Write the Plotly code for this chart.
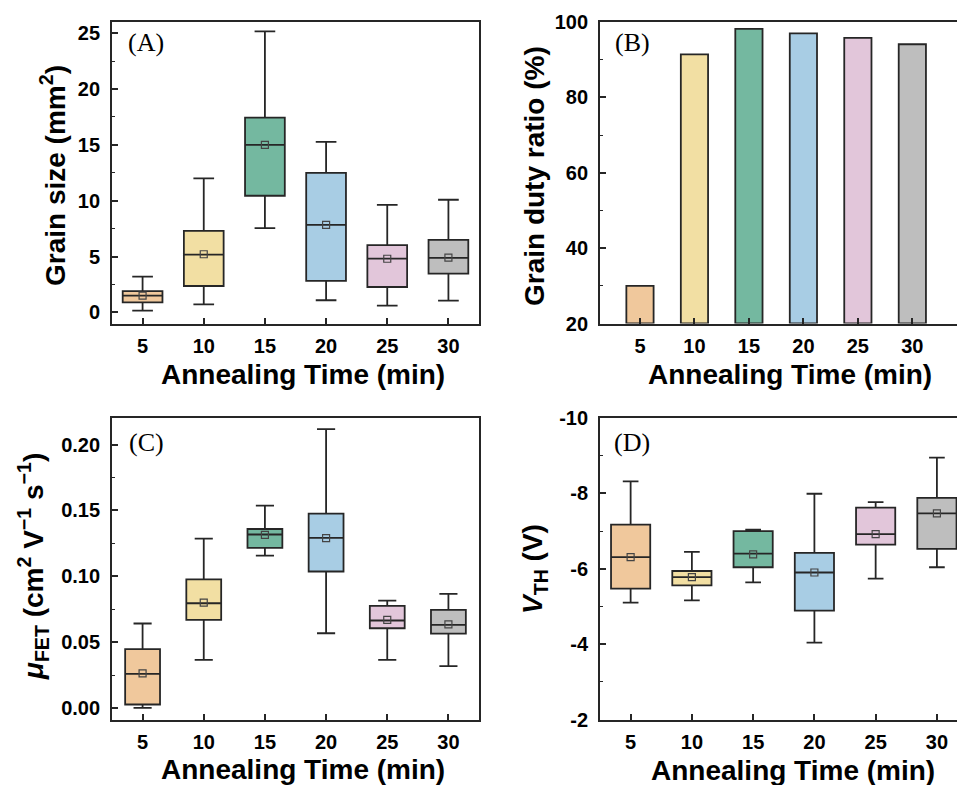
import plotly.graph_objects as go

# ---------------- data ----------------
times = [5, 10, 15, 20, 25, 30]
colors = ["#F0C89C", "#F2DFA3", "#74B8A0", "#A8CDE4", "#E2C6DA", "#BEBEBE"]

# (A) grain size (mm^2)
grain_low = [0.15, 0.72, 7.54, 1.08, 0.60, 1.04]
grain_q1 = [0.90, 2.36, 10.44, 2.81, 2.27, 3.46]
grain_med = [1.50, 5.17, 15.00, 7.84, 4.81, 4.87]
grain_q3 = [1.90, 7.30, 17.44, 12.48, 6.01, 6.49]
grain_high = [3.20, 12.00, 25.16, 15.26, 9.63, 10.08]
grain_mean = [1.50, 5.20, 15.00, 7.84, 4.80, 4.90]

# (B) grain duty ratio (%)
duty = [30.0, 91.4, 98.2, 97.0, 95.8, 94.1]

# (C) mobility (cm^2 V^-1 s^-1)
mu_low = [0.000, 0.0365, 0.1157, 0.0567, 0.0365, 0.0317]
mu_q1 = [0.0026, 0.0668, 0.1215, 0.1036, 0.0605, 0.0565]
mu_med = [0.0258, 0.0795, 0.1317, 0.1291, 0.0664, 0.0630]
mu_q3 = [0.0446, 0.0977, 0.1359, 0.1476, 0.0775, 0.0744]
mu_high = [0.0641, 0.1286, 0.1537, 0.2118, 0.0815, 0.0866]
mu_mean = [0.0262, 0.0800, 0.1315, 0.1290, 0.0668, 0.0635]

# (D) threshold voltage (V)
vth_min = [-8.32, -6.45, -7.04, -7.99, -7.77, -8.95]
vth_q1 = [-7.17, -5.94, -7.00, -6.42, -7.62, -7.88]
vth_med = [-6.31, -5.78, -6.40, -5.90, -6.92, -7.47]
vth_q3 = [-5.47, -5.56, -6.04, -4.89, -6.64, -6.53]
vth_max = [-5.10, -5.16, -5.64, -4.04, -5.74, -6.04]
vth_mean = [-6.31, -5.78, -6.38, -5.90, -6.92, -7.47]

x_ticks = [5, 10, 15, 20, 25, 30]
a_ticks = [0, 5, 10, 15, 20, 25]
b_ticks = [20, 40, 60, 80, 100]
c_ticks = [0.00, 0.05, 0.10, 0.15, 0.20]
c_ticklabels = ["0.00", "0.05", "0.10", "0.15", "0.20"]
d_ticks = [-10, -8, -6, -4, -2]
d_ticklabels = ["-10", "-8", "-6", "-4", "-2"]

# ---------------- figure ----------------
W, H = 957, 785
LINE = "#262626"
SANS = "Liberation Sans, Arial, sans-serif"
SERIF = "Liberation Serif, Times New Roman, serif"

fig = go.Figure()


def add_boxes(xa, ya, low, q1, med, q3, high, mean, width, whisk):
    for i, t in enumerate(times):
        fig.add_trace(go.Box(
            x=[t], lowerfence=[low[i]], q1=[q1[i]], median=[med[i]],
            q3=[q3[i]], upperfence=[high[i]],
            fillcolor=colors[i], line=dict(color=LINE, width=1.8),
            width=width, whiskerwidth=whisk, boxpoints=False,
            xaxis=xa, yaxis=ya, showlegend=False, hoverinfo="skip"))
    fig.add_trace(go.Scatter(
        x=times, y=mean, mode="markers",
        marker=dict(symbol="square-open", size=7, color="#444444",
                    line=dict(width=1.2)),
        xaxis=xa, yaxis=ya, showlegend=False, hoverinfo="skip"))


add_boxes("x", "y", grain_low, grain_q1, grain_med, grain_q3, grain_high,
          grain_mean, 3.25, 0.52)

fig.add_trace(go.Bar(
    x=times, y=[d - 20 for d in duty], base=20, width=2.5,
    marker=dict(color=colors, line=dict(color=LINE, width=1.8)),
    xaxis="x2", yaxis="y2", showlegend=False, hoverinfo="skip"))

add_boxes("x3", "y3", mu_low, mu_q1, mu_med, mu_q3, mu_high, mu_mean,
          2.85, 0.52)
add_boxes("x4", "y4", vth_min, vth_q1, vth_med, vth_q3, vth_max,
          vth_mean, 3.2, 0.4)


def px_x(p):
    return p / W


def px_y(p):
    return 1 - p / H


tickfont = dict(family=SANS, size=20, color="black", weight="bold")


def xax(domain, rng, mirror=True):
    return dict(domain=domain, range=rng, tickvals=x_ticks,
                ticks="inside", ticklen=6, tickwidth=1.6, tickcolor=LINE,
                showline=True, linecolor=LINE, linewidth=1.8, mirror=mirror,
                showgrid=False, zeroline=False, tickfont=tickfont,
                ticklabelstandoff=4, automargin=False)


def yax(domain, rng, tickvals, ticktext=None, minor_dtick=None,
        mirror=True):
    d = dict(domain=domain, range=rng, tickvals=tickvals,
             ticks="inside", ticklen=6, tickwidth=1.6, tickcolor=LINE,
             showline=True, linecolor=LINE, linewidth=1.8, mirror=mirror,
             showgrid=False, zeroline=False, tickfont=tickfont,
             ticklabelstandoff=6, automargin=False)
    if ticktext is not None:
        d["ticktext"] = ticktext
    if minor_dtick is not None:
        d["minor"] = dict(ticks="inside", ticklen=3.5, tickwidth=1.4,
                          tickcolor=LINE, dtick=minor_dtick,
                          showgrid=False)
    return d


dxA = [px_x(112), px_x(479)]
dxB = [px_x(600), 1.0]
dyTop = [px_y(323.5), px_y(22)]
dyBot = [px_y(719.5), px_y(418)]

fig.update_layout(
    width=W, height=H,
    margin=dict(l=0, r=0, t=0, b=0, pad=0, autoexpand=False),
    paper_bgcolor="white", plot_bgcolor="white",
    boxmode="overlay",
    xaxis=dict(xax(dxA, [2.5, 32.5]), anchor="y"),
    yaxis=dict(yax(dyTop, [-1, 26], a_ticks, minor_dtick=2.5), anchor="x"),
    xaxis2=dict(xax(dxB, [1.33, 34.1]), anchor="y2"),
    yaxis2=dict(yax(dyTop, [20, 100], b_ticks, minor_dtick=10,
                    mirror=False), anchor="x2"),
    xaxis3=dict(xax(dxA, [2.5, 32.5]), anchor="y3"),
    yaxis3=dict(yax(dyBot, [-0.0088, 0.2202], c_ticks, c_ticklabels,
                    minor_dtick=0.025), anchor="x3"),
    xaxis4=dict(xax(dxB, [2.5, 31.64]), anchor="y4"),
    yaxis4=dict(yax(dyBot, [-2, -10], d_ticks, d_ticklabels,
                    minor_dtick=1, mirror=False), anchor="x4"),
)

title_font = dict(family=SANS, size=28, color="black", weight="bold")
label_font = dict(family=SERIF, size=26, color="black")

annots = [
    # x titles
    dict(text="Annealing Time (min)", x=px_x(303), y=px_y(374)),
    dict(text="Annealing Time (min)", x=px_x(790), y=px_y(374)),
    dict(text="Annealing Time (min)", x=px_x(303), y=px_y(769)),
    dict(text="Annealing Time (min)", x=px_x(793), y=px_y(770)),
    # y titles
    dict(text="Grain size (mm<sup>2</sup>)", x=px_x(53), y=px_y(176),
         textangle=-90),
    dict(text="Grain duty ratio (%)", x=px_x(535), y=px_y(176),
         textangle=-90),
    dict(text="<i>μ</i><sub>FET</sub> (cm<sup>2</sup> V<sup>−1</sup> s<sup>−1</sup>)",
         x=px_x(33), y=px_y(567), textangle=-90),
    dict(text="<i>V</i><sub>TH</sub> (V)", x=px_x(534), y=px_y(569),
         textangle=-90),
]
for a in annots:
    fig.add_annotation(xref="paper", yref="paper", showarrow=False,
                       xanchor="center", yanchor="middle", font=title_font,
                       **a)

panels = [("(A)", 126, 43), ("(B)", 613, 43), ("(C)", 127, 442),
          ("(D)", 612, 442)]
for txt, px, py in panels:
    fig.add_annotation(xref="paper", yref="paper", showarrow=False,
                       text=txt, x=px_x(px), y=px_y(py), xanchor="left",
                       yanchor="middle", font=label_font)

fig.write_html(
    "out.html",
    config={"displayModeBar": False},
    post_script="document.body.style.margin='0';"
                "document.body.style.overflow='hidden';",
)
